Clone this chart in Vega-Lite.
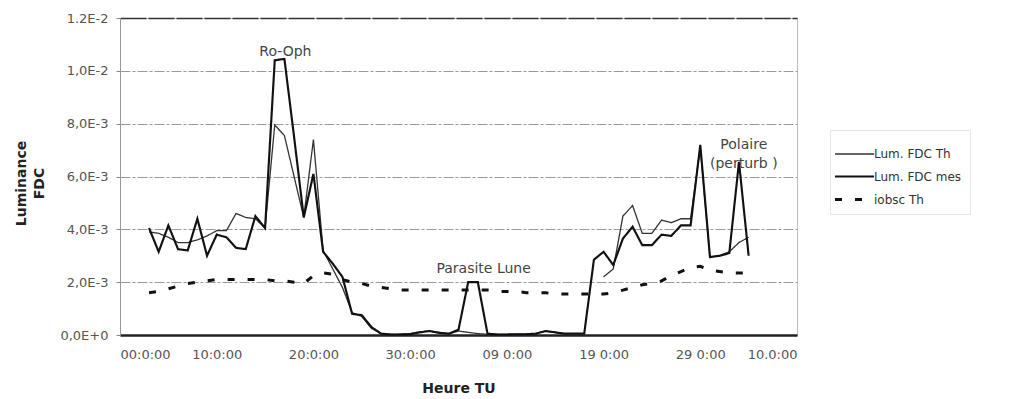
{
  "$schema": "https://vega.github.io/schema/vega-lite/v6.json",
  "width": 677,
  "height": 317,
  "autosize": {"type": "none"},
  "padding": {"left": 120, "top": 18, "right": 222, "bottom": 64},
  "background": "white",
  "config": {
    "font": "DejaVu Sans",
    "view": {"stroke": "#bbbbbb", "strokeWidth": 1},
    "axis": {"labelFont": "DejaVu Sans", "labelColor": "#555555", "labelFontSize": 13, "titleFont": "DejaVu Sans", "titleColor": "#222222"},
    "legend": {
      "orient": "none", "legendX": 710, "legendY": 112,
      "labelFont": "DejaVu Sans", "labelFontSize": 12, "labelColor": "#333333", "labelOffset": 3,
      "symbolType": "M-1.3,0H1.3", "symbolSize": 900, "rowPadding": -6,
      "strokeColor": "#e6e6e6", "padding": 8
    }
  },
  "layer": [
    {
      "data": {
        "values": [
          {"t": 3, "th": 0.0039, "mes": 0.00405, "iobsc": 0.0016},
          {"t": 4, "th": 0.00385, "mes": 0.00315, "iobsc": 0.00165},
          {"t": 5, "th": 0.0037, "mes": 0.00415, "iobsc": 0.00175},
          {"t": 6, "th": 0.0035, "mes": 0.00325, "iobsc": 0.00185},
          {"t": 7, "th": 0.0035, "mes": 0.0032, "iobsc": 0.00195},
          {"t": 8, "th": 0.0036, "mes": 0.0044, "iobsc": 0.002},
          {"t": 9, "th": 0.00375, "mes": 0.003, "iobsc": 0.00205},
          {"t": 10, "th": 0.00395, "mes": 0.0038, "iobsc": 0.0021},
          {"t": 11, "th": 0.00395, "mes": 0.0037, "iobsc": 0.0021},
          {"t": 12, "th": 0.0046, "mes": 0.0033, "iobsc": 0.0021},
          {"t": 13, "th": 0.00445, "mes": 0.00325, "iobsc": 0.0021},
          {"t": 14, "th": 0.0044, "mes": 0.0045, "iobsc": 0.0021},
          {"t": 15, "th": 0.00405, "mes": 0.00405, "iobsc": 0.0021},
          {"t": 16, "th": 0.00795, "mes": 0.0104, "iobsc": 0.00205},
          {"t": 17, "th": 0.00755, "mes": 0.01045, "iobsc": 0.00205},
          {"t": 18, "th": 0.006, "mes": 0.0075, "iobsc": 0.002},
          {"t": 19, "th": 0.00445, "mes": 0.00445, "iobsc": 0.00195},
          {"t": 20, "th": 0.0074, "mes": 0.0061, "iobsc": 0.00225},
          {"t": 21, "th": 0.0032, "mes": 0.00315, "iobsc": 0.00235},
          {"t": 22, "th": 0.0025, "mes": 0.0027, "iobsc": 0.0023},
          {"t": 23, "th": 0.0018, "mes": 0.0022, "iobsc": 0.0021},
          {"t": 24, "th": 0.00085, "mes": 0.0008, "iobsc": 0.002},
          {"t": 25, "th": 0.0007, "mes": 0.00075, "iobsc": 0.00195},
          {"t": 26, "th": 0.00025, "mes": 0.0003, "iobsc": 0.00185},
          {"t": 27, "th": 0.00005, "mes": 0.00005, "iobsc": 0.0018},
          {"t": 28, "th": 0.00002, "mes": 0.00002, "iobsc": 0.00175},
          {"t": 29, "th": 0.00003, "mes": 0.00002, "iobsc": 0.0017},
          {"t": 30, "th": 0.00005, "mes": 0.00003, "iobsc": 0.0017},
          {"t": 31, "th": 0.00012, "mes": 0.0001, "iobsc": 0.0017},
          {"t": 32, "th": 0.00015, "mes": 0.00015, "iobsc": 0.0017},
          {"t": 33, "th": 0.0001, "mes": 0.00008, "iobsc": 0.0017},
          {"t": 34, "th": 0.00005, "mes": 0.00005, "iobsc": 0.0017},
          {"t": 35, "th": 0.00015, "mes": 0.0002, "iobsc": 0.0017},
          {"t": 36, "th": 0.0001, "mes": 0.002, "iobsc": 0.0017},
          {"t": 37, "th": 0.00005, "mes": 0.002, "iobsc": 0.0017},
          {"t": 38, "th": 0.00003, "mes": 0.00005, "iobsc": 0.0017},
          {"t": 39, "th": 0.00002, "mes": 0.00002, "iobsc": 0.00165},
          {"t": 40, "th": 0.00002, "mes": 0.00002, "iobsc": 0.00165},
          {"t": 41, "th": 0.00003, "mes": 0.00003, "iobsc": 0.00165},
          {"t": 42, "th": 0.00003, "mes": 0.00003, "iobsc": 0.0016},
          {"t": 43, "th": 0.00005, "mes": 0.00005, "iobsc": 0.0016},
          {"t": 44, "th": 0.00015, "mes": 0.00015, "iobsc": 0.0016},
          {"t": 45, "th": 0.0001, "mes": 0.0001, "iobsc": 0.00155},
          {"t": 46, "th": 0.00005, "mes": 0.00005, "iobsc": 0.00155},
          {"t": 47, "th": 0.00005, "mes": 0.00005, "iobsc": 0.00155},
          {"t": 48, "th": null, "mes": 0.00005, "iobsc": 0.00155},
          {"t": 49, "th": null, "mes": 0.00285, "iobsc": 0.00155},
          {"t": 50, "th": 0.0022, "mes": 0.00315, "iobsc": 0.00155},
          {"t": 51, "th": 0.0025, "mes": 0.00265, "iobsc": 0.0016},
          {"t": 52, "th": 0.0045, "mes": 0.00365, "iobsc": 0.0017},
          {"t": 53, "th": 0.0049, "mes": 0.0041, "iobsc": 0.0018},
          {"t": 54, "th": 0.00385, "mes": 0.0034, "iobsc": 0.0019},
          {"t": 55, "th": 0.00385, "mes": 0.0034, "iobsc": 0.00195},
          {"t": 56, "th": 0.00435, "mes": 0.0038, "iobsc": 0.00205},
          {"t": 57, "th": 0.00425, "mes": 0.00375, "iobsc": 0.00225},
          {"t": 58, "th": 0.0044, "mes": 0.00415, "iobsc": 0.0024},
          {"t": 59, "th": 0.0044, "mes": 0.00415, "iobsc": 0.00255},
          {"t": 60, "th": 0.0071, "mes": 0.0072, "iobsc": 0.0026},
          {"t": 61, "th": 0.00295, "mes": 0.00295, "iobsc": 0.00245},
          {"t": 62, "th": 0.003, "mes": 0.003, "iobsc": 0.0024},
          {"t": 63, "th": 0.00315, "mes": 0.0031, "iobsc": 0.00235},
          {"t": 64, "th": 0.0035, "mes": 0.00655, "iobsc": 0.00235},
          {"t": 65, "th": 0.0037, "mes": 0.003, "iobsc": 0.00235}
        ]
      },
      "transform": [{"fold": ["th", "mes", "iobsc"], "as": ["series", "v"]}],
      "mark": {"type": "line", "invalid": "break-paths-show-domains", "strokeJoin": "miter", "strokeCap": "butt"},
      "encoding": {
        "x": {
          "field": "t", "type": "quantitative",
          "scale": {"domain": [0, 70], "nice": false, "zero": false},
          "axis": {
            "title": "Heure TU", "titleFontSize": 14, "titleFontWeight": "bold", "titleY": 53, "titleBaseline": "middle",
            "values": [0, 10, 20, 30, 40, 50, 60, 70],
            "labelExpr": "['00:0:00','10:0:00','20:0:00','30:0:00','09 0:00','19 0:00','29 0:00','10.0:00'][round(datum.value/10)]",
            "labelPadding": 13, "ticks": false, "grid": false,
            "domainColor": "#222222", "domainWidth": 2.5
          }
        },
        "y": {
          "field": "v", "type": "quantitative",
          "scale": {"domain": [0, 0.012], "nice": false},
          "axis": {
            "title": ["Luminance", "FDC"], "titleFontSize": 14, "titleFontWeight": "bold",
            "titleAngle": -90, "titleX": -106, "titleY": 165, "titleBaseline": "top", "titleAlign": "center", "titleLineHeight": 18,
            "values": [0, 0.002, 0.004, 0.006, 0.008, 0.01, 0.012],
            "labelExpr": "datum.value == 0.012 ? '1.2E-2' : upper(replace(format(datum.value, '.1e'), '.', ','))",
            "labelPadding": 8, "tickSize": 4, "tickColor": "#888888",
            "domainColor": "#999999",
            "grid": true,
            "gridColor": {"condition": {"test": "datum.value == 0.012", "value": "#333333"}, "value": "#9a9a9a"},
            "gridWidth": {"condition": {"test": "datum.value == 0.012", "value": 1.6}, "value": 1},
            "gridDash": {"condition": {"test": "datum.value == 0.012", "value": [26, 2]}, "value": [10, 2, 3, 2]}
          }
        },
        "color": {
          "field": "series", "type": "nominal",
          "scale": {"domain": ["th", "mes", "iobsc"], "range": ["#333333", "#111111", "#111111"]},
          "legend": {
            "title": null,
            "labelExpr": "datum.value == 'th' ? 'Lum. FDC Th' : datum.value == 'mes' ? 'Lum. FDC mes' : 'iobsc Th'"
          }
        },
        "strokeWidth": {
          "field": "series", "type": "nominal",
          "scale": {"domain": ["th", "mes", "iobsc"], "range": [1.3, 3, 3]},
          "legend": {
            "title": null,
            "labelExpr": "datum.value == 'th' ? 'Lum. FDC Th' : datum.value == 'mes' ? 'Lum. FDC mes' : 'iobsc Th'"
          }
        },
        "strokeDash": {
          "field": "series", "type": "nominal",
          "scale": {"domain": ["th", "mes", "iobsc"], "range": [[1, 0], [1, 0], [7, 13]]},
          "legend": {
            "title": null,
            "labelExpr": "datum.value == 'th' ? 'Lum. FDC Th' : datum.value == 'mes' ? 'Lum. FDC mes' : 'iobsc Th'"
          }
        }
      }
    },
    {
      "data": {
        "values": [
          {"t": 17.1, "v": 0.0107, "label": "Ro-Oph"},
          {"t": 37.6, "v": 0.0025, "label": "Parasite Lune"},
          {"t": 64.5, "v": 0.0072, "label": "Polaire"},
          {"t": 64.5, "v": 0.00648, "label": "(perturb )"}
        ]
      },
      "mark": {"type": "text", "font": "DejaVu Sans", "fontSize": 14, "color": "#444444", "align": "center", "baseline": "middle"},
      "encoding": {
        "x": {"field": "t", "type": "quantitative"},
        "y": {"field": "v", "type": "quantitative"},
        "text": {"field": "label", "type": "nominal"}
      }
    }
  ]
}
